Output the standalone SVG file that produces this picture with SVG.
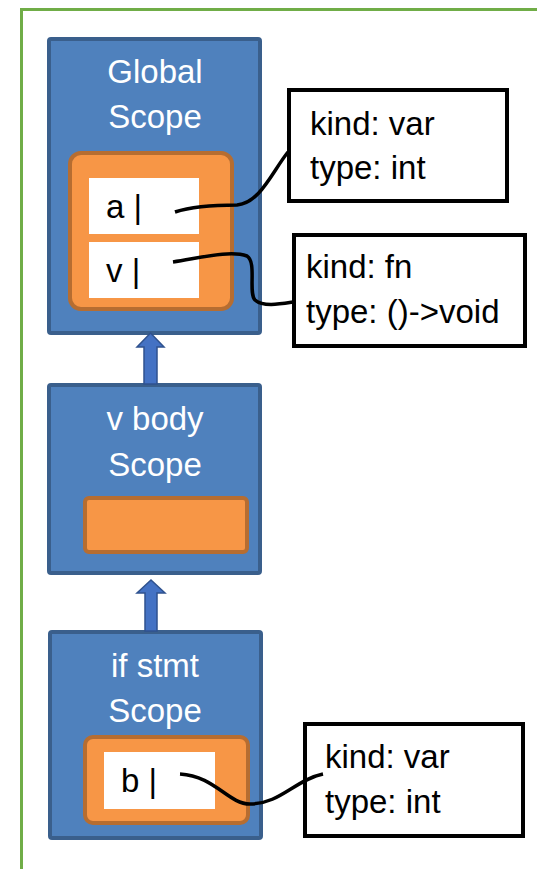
<svg xmlns="http://www.w3.org/2000/svg" width="537" height="869" viewBox="0 0 537 869">
<style>
.scope{fill:#4f81bd;stroke:#3a5f8c;stroke-width:4}
.tbl{fill:#f79646;stroke:#b66d31;stroke-width:4}
.cell{fill:#ffffff}
.info{fill:#ffffff;stroke:#000000;stroke-width:4}
.wt{font-family:"Liberation Sans",Arial,sans-serif;font-size:33px;fill:#ffffff;text-anchor:middle}
.bt{font-family:"Liberation Sans",Arial,sans-serif;font-size:33px;fill:#000000}
.conn{fill:none;stroke:#000000;stroke-width:3.5}
.up{fill:#4472c4;stroke:#2f528f;stroke-width:1.5}
</style>
<rect width="537" height="869" fill="#ffffff"/>
<g id="frame">
<line x1="21.5" y1="9.5" x2="537" y2="9.5" stroke="#70ad47" stroke-width="3"/>
<line x1="21.5" y1="8" x2="21.5" y2="869" stroke="#70ad47" stroke-width="3"/>
</g>
<g id="global-scope">
<rect class="scope" x="49" y="39" width="211" height="294" rx="2"/>
<text class="wt" x="155" y="83">Global</text>
<text class="wt" x="155" y="128">Scope</text>
<rect class="tbl" x="70" y="153" width="162" height="156" rx="11"/>
<rect class="cell" x="89" y="178" width="110" height="56"/>
<rect class="cell" x="89" y="242" width="110" height="56"/>
<text class="bt" x="106" y="218">a |</text>
<text class="bt" x="106" y="282">v |</text>
</g>
<g id="vbody-scope">
<rect class="scope" x="49" y="385" width="211" height="188" rx="2"/>
<text class="wt" x="155" y="430">v body</text>
<text class="wt" x="155" y="476">Scope</text>
<rect class="tbl" x="85" y="498" width="162" height="54" rx="4"/>
</g>
<g id="if-scope">
<rect class="scope" x="50" y="632" width="211" height="206" rx="2"/>
<text class="wt" x="155" y="677">if stmt</text>
<text class="wt" x="155" y="722">Scope</text>
<rect class="tbl" x="85" y="737" width="163" height="86" rx="8"/>
<rect class="cell" x="104" y="752" width="111" height="57"/>
<text class="bt" x="121" y="792">b |</text>
</g>
<g id="info-a">
<rect class="info" x="289" y="90" width="218" height="111"/>
<text class="bt" x="310" y="135">kind: var</text>
<text class="bt" x="310" y="179">type: int</text>
</g>
<g id="info-v">
<rect class="info" x="294" y="235" width="231" height="111"/>
<text class="bt" x="306" y="278">kind: fn</text>
<text class="bt" x="306" y="323">type: ()-&gt;void</text>
</g>
<g id="info-b">
<rect class="info" x="305" y="724" width="218" height="112"/>
<text class="bt" x="325" y="768">kind: var</text>
<text class="bt" x="325" y="813">type: int</text>
</g>
<g id="connectors">
<path class="conn" d="M175,212 C190,207 215,205 237,205 C260,203 272,172 288,152"/>
<path class="conn" d="M173,262 C200,258 230,250 247,256 C257,262 248,293 255,300 C263,307 280,304 293,302"/>
<path class="conn" d="M180,774 C215,776 228,804 250,804 C280,804 295,780 323,774"/>
<path class="up" d="M150.5,333 L164,347 L157,347 L157,384 L144,384 L144,347 L137,347 Z"/>
<path class="up" d="M151,580 L165,593 L157,593 L157,631 L145,631 L145,593 L137,593 Z"/>
</g>
</svg>
